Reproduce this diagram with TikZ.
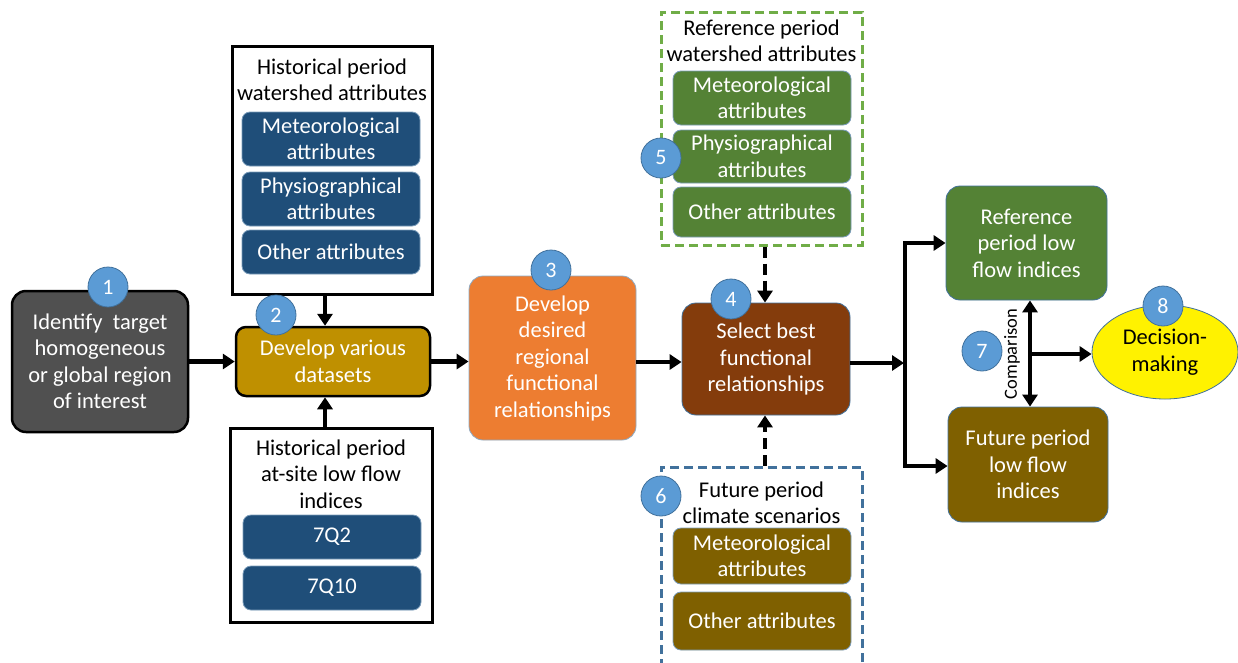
\documentclass[tikz,border=0pt]{standalone}
\usepackage{fontspec}
\setmainfont{Carlito}
\usetikzlibrary{arrows.meta,shapes.geometric}
\definecolor{cgray}{HTML}{505050}
\definecolor{cgold}{HTML}{BF9000}
\definecolor{corange}{HTML}{ED7D31}
\definecolor{cbrown}{HTML}{843C0C}
\definecolor{cgreen}{HTML}{548235}
\definecolor{cdgold}{HTML}{7F6000}
\definecolor{cblue}{HTML}{1F4E79}
\definecolor{ccirc}{HTML}{5B9BD5}
\definecolor{cline}{HTML}{41719C}
\definecolor{cgdash}{HTML}{70AD47}
\tikzset{
  txt/.style={align=center,font=\fontsize{22.5}{26.5}\selectfont},
  mainbox/.style={txt,rounded corners=14pt,text=white,inner sep=2pt},
  heavy/.style={draw=black,line width=2.5pt},
  inbox/.style={txt,rounded corners=8pt,text=white,draw=cline!70,line width=0.8pt,inner sep=1pt},
  cont/.style={draw=black,line width=3pt,fill=white},
  numc/.style={circle,fill=ccirc,draw=cline,line width=0.8pt,text=white,minimum size=40pt,inner sep=0pt,font=\fontsize{22}{22}\selectfont},
  tip/.tip={Triangle[length=12pt,width=15pt]},
  arr/.style={line width=4.5pt,-tip},
  darr/.style={arr,dash pattern=on 11pt off 6pt},
}
\begin{document}
\begin{tikzpicture}[x=1pt,y=-1pt]
\useasboundingbox[fill=white] (0,0) rectangle (1238,662);
% containers
\node[cont,minimum width=200pt,minimum height=248pt] (hw) at (332,170) {};
\node[txt] (hwt) at (332,80) {Historical period\\watershed attributes};
\node[inbox,fill=cblue,minimum width=178pt,minimum height=54pt] (hw1) at (331,139) {Meteorological\\attributes};
\node[inbox,fill=cblue,minimum width=178pt,minimum height=54pt] (hw2) at (331,199) {Physiographical\\attributes};
\node[inbox,fill=cblue,minimum width=178pt,minimum height=44pt] (hw3) at (331,252) {Other attributes};

\node[cont,minimum width=202pt,minimum height=194pt] (ha) at (331,525) {};
\node[txt] (hat) at (331,474) {Historical period\\at-site low flow\\indices};
\node[inbox,fill=cblue,minimum width=178pt,minimum height=44pt] (ha1) at (332,537) {7Q2};
\node[inbox,fill=cblue,minimum width=178pt,minimum height=44pt] (ha2) at (332,588) {7Q10};

\node[draw=cgdash,line width=3pt,dash pattern=on 9pt off 5pt,minimum width=201pt,minimum height=233pt] (gd) at (761.5,128.5) {};
\node[txt] (gdt) at (761.5,41) {Reference period\\watershed attributes};
\node[inbox,fill=cgreen,minimum width=178pt,minimum height=54pt] (g1) at (762,98) {Meteorological\\attributes};
\node[inbox,fill=cgreen,minimum width=178pt,minimum height=53pt] (g2) at (762,156.5) {Physiographical\\attributes};
\node[inbox,fill=cgreen,minimum width=178pt,minimum height=50pt] (g3) at (762,212) {Other attributes};

\node[draw=cline,line width=3pt,dash pattern=on 9pt off 5pt,minimum width=201pt,minimum height=204pt] (bd) at (761.5,569) {};
\node[txt] (bdt) at (761.5,503) {Future period\\climate scenarios};
\node[inbox,fill=cdgold,minimum width=178pt,minimum height=56pt] (b1) at (762,556) {Meteorological\\attributes};
\node[inbox,fill=cdgold,minimum width=178pt,minimum height=58pt] (b2) at (762,621) {Other attributes};

% main boxes
\node[mainbox,heavy,fill=cgray,minimum width=176pt,minimum height=141pt] (b1box) at (100,361.5) {Identify\ \ target\\homogeneous\\or global region\\of interest};
\node[mainbox,heavy,fill=cgold,rounded corners=10pt,minimum width=194pt,minimum height=69pt] (b2box) at (333,361.5) {Develop various\\datasets};
\node[mainbox,draw=cline!60,line width=0.8pt,fill=corange,minimum width=167pt,minimum height=164pt] (b3box) at (552.5,358) {Develop\\desired\\regional\\functional\\relationships};
\node[mainbox,draw=cline,line width=0.8pt,fill=cbrown,minimum width=168pt,minimum height=112pt] (b4box) at (766,359) {Select best\\functional\\relationships};
\node[mainbox,draw=cline,line width=0.8pt,fill=cgreen,minimum width=161pt,minimum height=114pt] (ref) at (1026.5,243) {Reference\\period low\\flow indices};
\node[mainbox,draw=cline,line width=0.8pt,fill=cdgold,minimum width=160pt,minimum height=115pt] (fut) at (1028,464.5) {Future period\\low flow\\indices};
\node[ellipse,draw=cline,line width=0.8pt,fill=yellow,minimum width=146pt,minimum height=94pt,inner sep=0pt,txt] (dec) at (1165,352) {Decision-\\making};

% numbers
\node[numc] (n1) at (108,287) {1};
\node[numc] (n2) at (276,315) {2};
\node[numc] (n3) at (551,270) {3};
\node[numc] (n4) at (731,299) {4};
\node[numc] (n5) at (661,158) {5};
\node[numc] (n6) at (661,496) {6};
\node[numc] (n7) at (982,351) {7};
\node[numc] (n8) at (1163,306) {8};

% connectors
\draw[arr] (b1box.east) -- (b2box.west);
\draw[arr] (hw.south -| 325,0) -- (b2box.north -| 325,0);
\draw[arr] (ha.north -| 325,0) -- (b2box.south -| 325,0);
\draw[arr] (b2box.east) -- (b3box.west |- b2box.east);
\draw[arr] (b3box.east |- 0,362) -- (b4box.west |- 0,362);
\draw[darr] (gd.south -| 765,0) -- (b4box.north -| 765,0);
\draw[darr] (bd.north -| 765,0) -- (b4box.south -| 765,0);
\coordinate (sp) at (904,363);
\coordinate (spt) at (905,243);
\coordinate (spb) at (905,466);
\draw[arr] (b4box.east |- sp) -- (sp);
\draw[arr] (spb) -- (spt) -- (ref.west |- spt);
\draw[arr] (spt) -- (spb) -- (fut.west |- spb);
\draw[line width=4.5pt,tip-tip] (ref.south -| 1030,0) -- (fut.north -| 1030,0);
\coordinate (mid) at (1030,354);
\draw[arr] (mid) -- (dec.west |- mid);
\node[rotate=90,font=\fontsize{18.5}{19}\selectfont] (cmp) at (1012,354) {Comparison};
\end{tikzpicture}
\end{document}
